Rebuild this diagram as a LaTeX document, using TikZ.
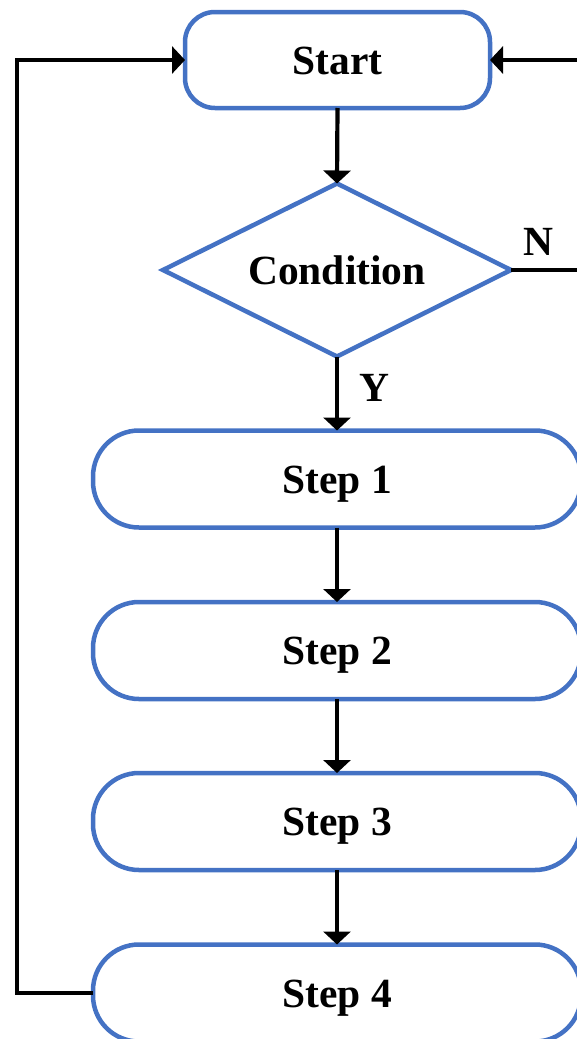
\documentclass[tikz,border=0pt]{standalone}
\usepackage{fontspec}
\setmainfont{Liberation Serif}
\usetikzlibrary{shapes.geometric,arrows.meta}
\definecolor{boxblue}{HTML}{4472C4}
\tikzset{
  box/.style={draw=boxblue, line width=4.5pt, fill=white, inner sep=0pt, outer sep=0pt,
    text height=28pt, text depth=0pt,
    font=\fontsize{41.5}{48}\selectfont\bfseries},
  startbox/.style={box, rounded corners=30pt, minimum width=305pt, minimum height=96pt},
  stepbox/.style={box, rounded corners=46pt, minimum width=488pt, minimum height=97pt},
  decision/.style={box, diamond, shape aspect=2, minimum width=348pt, minimum height=173pt},
  conn/.style={line width=4.2pt, -{Triangle[length=13pt,width=27pt]}},
  plain/.style={line width=4.2pt},
  lbl/.style={font=\fontsize{41.5}{48}\selectfont\bfseries, inner sep=0pt}
}
\begin{document}
\begin{tikzpicture}[x=1pt,y=-1pt]
\useasboundingbox (0,0) rectangle (577,1039);
\clip (0,0) rectangle (577,1039);
\node[startbox] (start) at (337.5,60) {Start};
\node[decision] (cond) at (337,270) {Condition};
\node[stepbox] (s1) at (337,479) {Step 1};
\node[stepbox] (s2) at (337,650.5) {Step 2};
\node[stepbox] (s3) at (337,821.5) {Step 3};
\node[stepbox] (s4) at (337,993) {Step 4};
\coordinate (rin) at (580,60);
\coordinate (nout) at (580,270);
\node[lbl] (N) at (538,242) {N};
\node[lbl] (Y) at (374,388) {Y};
\draw[conn] (start.south) -- (cond.north);
\draw[conn] (cond.south) -- (s1.north);
\draw[conn] (s1.south) -- (s2.north);
\draw[conn] (s2.south) -- (s3.north);
\draw[conn] (s3.south) -- (s4.north);
\draw[plain] (cond.east) -- (nout);
\draw[conn] (rin) -- (start.east);
\draw[conn] (s4.west) -| (17,60) -- (start.west);
\end{tikzpicture}
\end{document}
